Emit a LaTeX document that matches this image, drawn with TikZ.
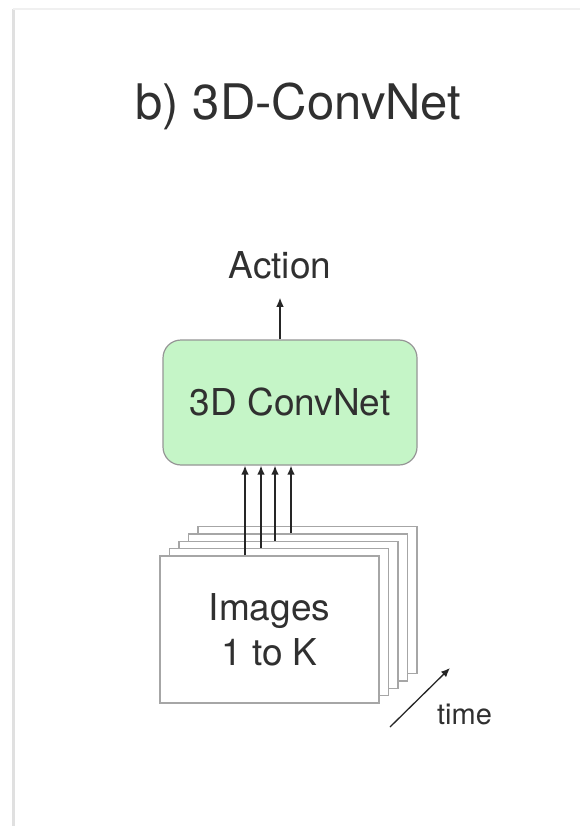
\documentclass[tikz,border=0pt]{standalone}
\usepackage{fontspec}
\setmainfont{TeX Gyre Heros}
\usetikzlibrary{arrows.meta, calc}

\definecolor{txtgray}{RGB}{48,48,48}
\definecolor{boxgreen}{RGB}{197,245,199}
\definecolor{edgegray}{RGB}{150,150,150}

\tikzset{
    netbox/.style = {draw=edgegray, fill=boxgreen, line width=1.2pt,
        rounded corners=18pt, minimum width=254pt, minimum height=125pt,
        text=txtgray, font=\fontsize{37}{44}\selectfont},
    frame/.style = {draw=edgegray!85, fill=white, line width=1.3pt,
        minimum width=219pt, minimum height=147pt, inner sep=0pt,
        text=txtgray, align=center, font=\fontsize{37}{45}\selectfont},
    arr/.style = {->, line width=1.3pt, draw=black!85},
    label/.style = {anchor=base, text=txtgray, inner sep=0pt},
}

\begin{document}
\begin{tikzpicture}[x=1pt, y=-1pt, >={Latex[length=9pt,width=7.5pt]}]
        % Page and its faint border
        \useasboundingbox (0,0) rectangle (580,826);
        \fill[white] (0,0) rectangle (580,826);
        \draw[black!12, line width=3pt] (13,9) -- (13,826);
        \draw[black!6, line width=2pt] (13,9) -- (580,9);

        % Title
        \node[label, font=\fontsize{49}{56}\selectfont] (title) at (298.5,120) {b) 3D-ConvNet};

        % Network
        \node[netbox] (net) at (290,402.5) {3D ConvNet};
        \node[label, font=\fontsize{37}{44}\selectfont] (act) at (280,278) {Action};
        \draw[arr] (net.north -| act.south) -- ([yshift=-19pt]act.south);

        % Stack of frames, back to front
        \foreach \i in {4,3,2,1} {
            \node[frame] (img\i) at ({269.5+9.5*\i}, {629.5-7.3*\i}) {};
        }
        \node[frame] (img0) at (269.5,629.5) {Images\\1 to K};

        % Frames into the network
        \foreach \i/\x in {0/245, 1/261, 2/275, 3/291} {
            \coordinate (c\i) at (\x,0);
            \draw[arr] (img\i.north -| c\i) -- (net.south -| c\i);
        }

        % Time axis
        \coordinate (t0) at (390,727);
        \coordinate (t1) at (450,668);
        \draw[arr] (t0) -- (t1);
        \node[label, font=\fontsize{29}{34}\selectfont] (time) at (464.5,724) {time};

    \end{tikzpicture}
\end{document}
